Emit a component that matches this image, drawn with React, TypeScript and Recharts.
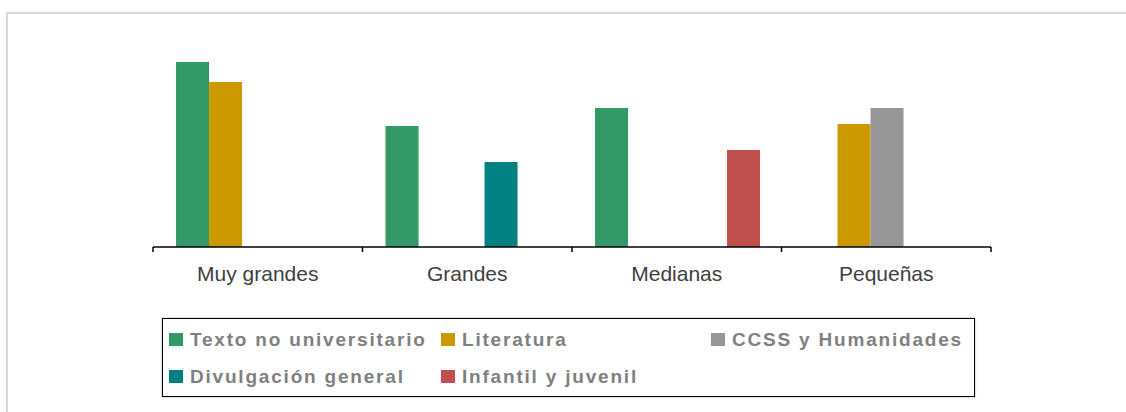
import React from "react";
import { BarChart, Bar, XAxis, YAxis } from "recharts";

const categories = ["Muy grandes", "Grandes", "Medianas", "Pequeñas"];

// bar heights (no value axis shown)
const textoNoUniversitario = [185, 121, 139, null];
const literatura = [165, null, null, 123];
const ccssHumanidades = [null, null, null, 139];
const divulgacionGeneral = [null, 85, null, null];
const infantilJuvenil = [null, null, 97, null];

const series = [
  { key: "texto", name: "Texto no universitario", color: "#339966", values: textoNoUniversitario },
  { key: "literatura", name: "Literatura", color: "#CC9900", values: literatura },
  { key: "ccss", name: "CCSS y Humanidades", color: "#969696", values: ccssHumanidades },
  { key: "divulgacion", name: "Divulgación general", color: "#008080", values: divulgacionGeneral },
  { key: "infantil", name: "Infantil y juvenil", color: "#C0504D", values: infantilJuvenil },
];

// legend layout (Excel style, 3 columns)
const legendCells = [
  { key: "texto", left: 169, row: 0 },
  { key: "literatura", left: 441, row: 0 },
  { key: "ccss", left: 711, row: 0 },
  { key: "divulgacion", left: 169, row: 1 },
  { key: "infantil", left: 441, row: 1 },
];

const FONT = "'Liberation Sans', Arial, sans-serif";

const chartData = categories.map((name, i) => {
  const row: Record<string, any> = { name };
  series.forEach((s) => (row[s.key] = s.values[i]));
  return row;
});

const CategoryTick = (props: any) => {
  const { x, y, payload } = props;
  const half = payload && payload.offset ? payload.offset : 104.75;
  const last = payload.index === categories.length - 1;
  return (
    <g>
      <line x1={x - half} y1={y} x2={x - half} y2={y + 5} stroke="#000" strokeWidth={1.5} />
      {last && <line x1={x + half} y1={y} x2={x + half} y2={y + 5} stroke="#000" strokeWidth={1.5} />}
      <text x={x} y={y + 34} textAnchor="middle" fill="#404040" fontSize={21} fontFamily={FONT}>
        {payload.value}
      </text>
    </g>
  );
};

export default function App() {
  return (
    <div style={{ position: "fixed", left: 0, top: 0, width: 1126, height: 412, overflow: "hidden", background: "#fff" }}>
      <div
        style={{
          position: "absolute",
          left: 6,
          top: 12,
          width: 1200,
          height: 500,
          border: "2px solid #d9d9d9",
        }}
      />
      <div style={{ position: "absolute", left: 0, top: 0 }}>
        <BarChart
          width={1126}
          height={412}
          data={chartData}
          margin={{ top: 47, right: 135, left: 153, bottom: 125 }}
          barCategoryGap="11%"
          barGap={0}
        >
          <XAxis
            dataKey="name"
            axisLine={{ stroke: "#000", strokeWidth: 1.5 }}
            tickLine={false}
            tickSize={0}
            tickMargin={0}
            height={40}
            interval={0}
            tick={<CategoryTick />}
          />
          <YAxis hide domain={[0, 200]} />
          {series.map((s) => (
            <Bar key={s.key} dataKey={s.key} name={s.name} fill={s.color} isAnimationActive={false} />
          ))}
        </BarChart>
      </div>
      <div
        style={{
          position: "absolute",
          left: 162,
          top: 318,
          width: 811,
          height: 77,
          border: "1.5px solid #000",
          boxShadow: "0 0 2px #999",
        }}
      />
      {legendCells.map((c) => {
        const s = series.find((v) => v.key === c.key)!;
        const sqTop = c.row === 0 ? 333 : 370;
        const txtTop = c.row === 0 ? 329.6 : 367.4;
        return (
          <React.Fragment key={c.key}>
            <div style={{ position: "absolute", left: c.left, top: sqTop, width: 14, height: 13, background: s.color }} />
            <div
              style={{
                position: "absolute",
                left: c.left + 21,
                top: txtTop,
                fontFamily: FONT,
                fontWeight: "bold",
                fontSize: 19,
                lineHeight: "19px",
                letterSpacing: 1.8,
                color: "#808080",
                whiteSpace: "nowrap",
              }}
            >
              {s.name}
            </div>
          </React.Fragment>
        );
      })}
    </div>
  );
}
